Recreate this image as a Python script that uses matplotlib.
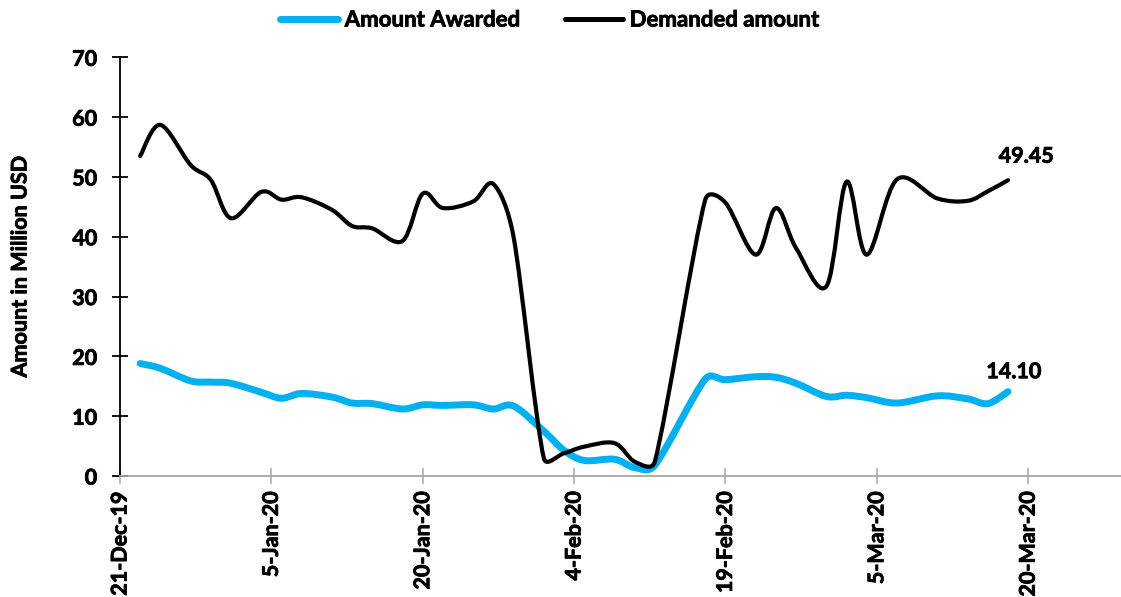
import numpy as np
import matplotlib
matplotlib.use("Agg")
import matplotlib.pyplot as plt
import matplotlib.dates as mdates
import matplotlib.patheffects as pe
from matplotlib.path import Path
from matplotlib.patches import PathPatch
from matplotlib.lines import Line2D

# ---------------- data ----------------
dates = ["2019-12-23", "2019-12-25", "2019-12-28", "2019-12-30", "2020-01-01",
         "2020-01-04", "2020-01-06", "2020-01-08", "2020-01-11", "2020-01-13",
         "2020-01-15", "2020-01-18", "2020-01-20", "2020-01-22", "2020-01-25",
         "2020-01-27", "2020-01-29", "2020-02-01", "2020-02-03", "2020-02-05",
         "2020-02-08", "2020-02-10", "2020-02-12", "2020-02-17", "2020-02-19",
         "2020-02-22", "2020-02-24", "2020-02-26", "2020-02-29", "2020-03-02",
         "2020-03-04", "2020-03-07", "2020-03-11", "2020-03-14", "2020-03-16",
         "2020-03-18"]
amount_awarded = [18.8, 18.0, 15.9, 15.7, 15.5,
                  14.0, 13.0, 13.8, 13.2, 12.2,
                  12.1, 11.2, 11.9, 11.8, 11.9,
                  11.2, 11.7, 7.5, 4.3, 2.6,
                  2.8, 1.4, 1.8, 16.2, 16.1,
                  16.6, 16.5, 15.5, 13.3, 13.5,
                  13.1, 12.2, 13.4, 12.9, 12.1,
                  14.10]
demanded_amount = [53.5, 58.7, 52.0, 49.5, 43.1,
                   47.5, 46.2, 46.6, 44.5, 41.8,
                   41.4, 39.3, 47.2, 44.8, 45.9,
                   48.8, 40.0, 3.0, 3.8, 4.9,
                   5.5, 2.4, 2.4, 46.2, 45.7,
                   37.0, 44.8, 38.1, 31.7, 49.2,
                   37.0, 49.6, 46.4, 46.0, 47.6,
                   49.45]
tick_dates = ["2019-12-21", "2020-01-05", "2020-01-20", "2020-02-04",
              "2020-02-19", "2020-03-05", "2020-03-20"]
tick_labels = ["21-Dec-19", "5-Jan-20", "20-Jan-20", "4-Feb-20",
               "19-Feb-20", "5-Mar-20", "20-Mar-20"]
y_ticks = [0, 10, 20, 30, 40, 50, 60, 70]
series_names = ["Amount Awarded", "Demanded amount"]
end_labels = ["14.10", "49.45"]

# ---------------- style ----------------
FONT = "Lato"
BLUE = "#00B0F0"
BLACK = "#000000"
GRAY = "#A6A6A6"
FS = 15.5
HEAVY = [pe.withStroke(linewidth=0.6, foreground=BLACK)]

plt.rcParams['font.family'] = [FONT, 'DejaVu Sans']
plt.rcParams['font.weight'] = 'bold'

fig = plt.figure(figsize=(11.21, 5.97), dpi=100)
ax = fig.add_axes([120 / 1121, 121 / 597, 1001 / 1121, (476 - 57.3) / 597])

x = mdates.date2num(np.array(dates, dtype="datetime64[D]"))

# axes limits first (smoothing is computed in display space)
x0 = mdates.date2num(np.datetime64("2019-12-21"))
ax.set_xlim(x0, x0 + 99.2)
ax.set_ylim(0, 70)


def smooth_path(xs, ys, clamp=0.5):
    """Excel-like smoothed line: Catmull-Rom Bezier computed in display
    space, with control arms limited to a fraction of the adjacent segment."""
    pts = ax.transData.transform(np.column_stack([xs, ys]))
    n = len(pts)
    tang = []
    for i in range(n):
        p0 = pts[i - 1] if i > 0 else pts[i]
        p2 = pts[i + 1] if i < n - 1 else pts[i]
        tang.append((p2 - p0) / 6.0)
    verts = [pts[0]]
    codes = [Path.MOVETO]
    for i in range(n - 1):
        p1, p2 = pts[i], pts[i + 1]
        seg = np.hypot(*(p2 - p1))
        t1, t2 = tang[i], tang[i + 1]
        l1, l2 = np.hypot(*t1), np.hypot(*t2)
        if l1 > clamp * seg and l1 > 0:
            t1 = t1 * clamp * seg / l1
        if l2 > clamp * seg and l2 > 0:
            t2 = t2 * clamp * seg / l2
        verts += [p1 + t1, p2 - t2, p2]
        codes += [Path.CURVE4] * 3
    inv = ax.transData.inverted()
    return Path(inv.transform(np.array(verts)), codes)


ax.add_patch(PathPatch(smooth_path(x, amount_awarded), facecolor="none",
                       edgecolor=BLUE, lw=5.0, capstyle="round",
                       joinstyle="round", zorder=3))
ax.add_patch(PathPatch(smooth_path(x, demanded_amount), facecolor="none",
                       edgecolor=BLACK, lw=3.0, capstyle="round",
                       joinstyle="round", zorder=4))

# end labels
ax.annotate(end_labels[0], (x[-1], amount_awarded[-1]), xytext=(4.1, 14.4),
            textcoords="offset points", ha="center", va="center",
            fontsize=FS, fontweight="bold", color=BLACK, path_effects=HEAVY)
ax.annotate(end_labels[1], (x[-1], demanded_amount[-1]), xytext=(13, 17.3),
            textcoords="offset points", ha="center", va="center",
            fontsize=FS, fontweight="bold", color=BLACK, path_effects=HEAVY)

# axes
tx = mdates.date2num(np.array(tick_dates, dtype="datetime64[D]"))
ax.set_xticks(tx)
ax.set_xticklabels(tick_labels, rotation=90, fontsize=FS, fontweight="bold")
ax.set_yticks(y_ticks)
ax.set_yticklabels([str(v) for v in y_ticks], fontsize=FS, fontweight="bold")
for lab in ax.get_xticklabels() + ax.get_yticklabels():
    lab.set_path_effects(HEAVY)

for s in ["top", "right"]:
    ax.spines[s].set_visible(False)
ax.spines["left"].set_color(BLACK)
ax.spines["left"].set_linewidth(1.3)
ax.spines["bottom"].set_color(GRAY)
ax.spines["bottom"].set_linewidth(1.3)
ax.tick_params(axis="y", direction="inout", length=11, width=1.3,
               color=BLACK, pad=11)
ax.tick_params(axis="x", direction="inout", length=11, width=1.1,
               color=GRAY, pad=5.5)

ylab = ax.set_ylabel("Amount in Million USD", fontsize=FS, fontweight="bold",
                     va="center", path_effects=HEAVY)
ax.yaxis.set_label_coords(-100 / 1001, 0.5)

handles = [Line2D([], [], color=BLUE, lw=5.0, solid_capstyle="round"),
           Line2D([], [], color=BLACK, lw=3.6, solid_capstyle="round")]
leg = fig.legend(handles, series_names, loc="center",
                 bbox_to_anchor=(550 / 1121, 1 - 20 / 597),
                 ncol=2, frameon=False, handlelength=2.6,
                 handletextpad=0.3, columnspacing=2.0,
                 prop={"weight": "bold", "size": 16})
for t in leg.get_texts():
    t.set_path_effects(HEAVY)

fig.savefig("out.png", dpi=100)
